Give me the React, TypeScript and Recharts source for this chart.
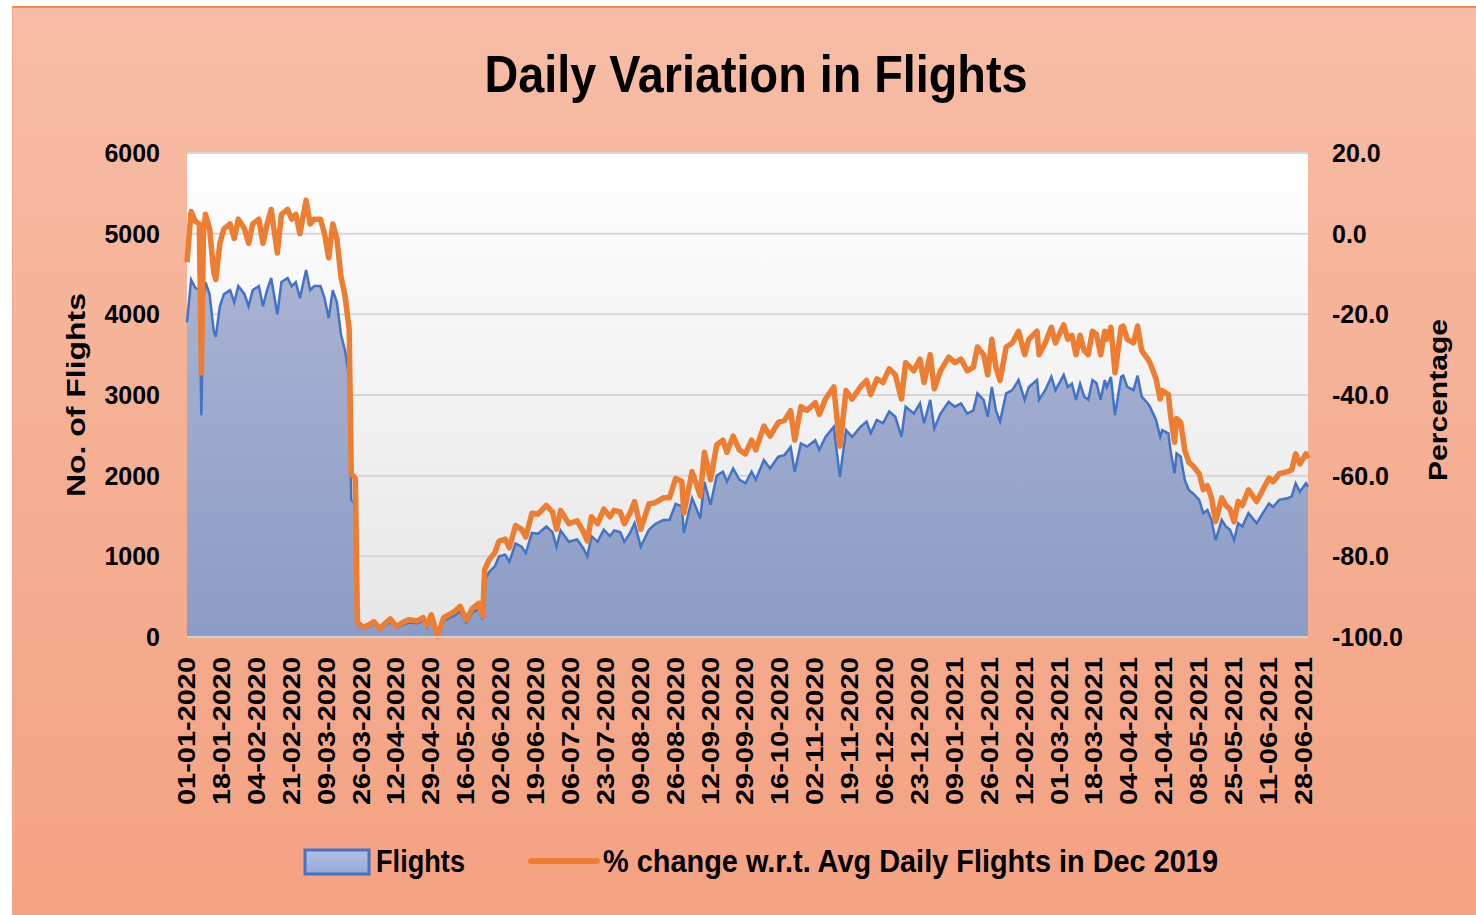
import { Area, CartesianGrid, ComposedChart, Line, XAxis, YAxis } from "recharts";

// x-axis labels, one every 17 days starting 01-01-2020
const tickLabels = [
  "01-01-2020", "18-01-2020", "04-02-2020", "21-02-2020", "09-03-2020", "26-03-2020",
  "12-04-2020", "29-04-2020", "16-05-2020", "02-06-2020", "19-06-2020", "06-07-2020",
  "23-07-2020", "09-08-2020", "26-08-2020", "12-09-2020", "29-09-2020", "16-10-2020",
  "02-11-2020", "19-11-2020", "06-12-2020", "23-12-2020", "09-01-2021", "26-01-2021",
  "12-02-2021", "01-03-2021", "18-03-2021", "04-04-2021", "21-04-2021", "08-05-2021",
  "25-05-2021", "11-06-2021", "28-06-2021"
];

// day index since 01-01-2020
const days = [
  0, 2, 4, 6, 7, 8, 9, 11, 13, 14, 16, 18, 21, 23, 25, 28, 30, 32, 35, 37,
  39, 41, 44, 46, 49, 51, 53, 55, 58, 60, 62, 65, 67, 69, 71, 73, 75, 77, 79, 80,
  82, 83,
  86, 89, 91, 94, 97, 99, 102, 105, 108, 112, 115, 117, 119, 122, 125, 128, 130, 133, 136, 139,
  142, 144, 145, 147, 150, 152, 155, 157, 160, 163, 165, 168, 171, 175,
  178, 180, 182, 186, 190, 193, 195, 197, 200, 203, 206, 208, 211, 213, 216, 218, 221, 225, 228, 232,
  235, 238, 241, 242, 246, 248, 250, 252, 255, 258, 261,
  263, 266, 269, 272, 275, 277, 281, 284, 288, 291, 294, 296, 299, 302, 306, 308, 311, 315, 318, 321,
  324, 328, 331, 333, 336, 339, 342, 345, 348, 350,
  354, 357, 359, 362, 364, 367, 371, 374, 377, 380, 383, 385, 388, 390, 392, 394, 396, 399, 402, 405,
  408, 410, 414, 415, 418, 421, 423, 427, 429, 431, 433, 435, 437, 439,
  441, 443, 445, 447, 448, 450, 452, 455, 456, 458, 461, 463, 465, 468, 469, 472, 474, 475, 478, 479,
  481, 482, 484, 486, 488, 490, 493, 495, 497, 499, 501, 504, 506, 508, 510, 512, 514, 517, 521, 524,
  527, 529, 532, 536, 538, 540, 542, 545, 546
];

const flights = [
  3900, 4430, 4330, 4300, 2750, 4200, 4400, 4250, 3800, 3720, 4100, 4250, 4300, 4150, 4350, 4250, 4100, 4300, 4350, 4100,
  4300, 4450, 4000, 4400, 4450, 4350, 4400, 4200, 4550, 4300, 4350, 4350, 4200, 3950, 4300, 4150, 3750, 3550, 3200, 1700,
  1650, 150,
  100, 130, 160, 90, 150, 190, 110, 150, 180, 170, 200, 120, 230, 10, 200, 240, 260, 320, 180, 300,
  350, 220, 700, 800, 880, 1000, 1020, 930, 1160, 1120, 1040, 1290, 1280, 1370,
  1300, 1120, 1320, 1180, 1210, 1100, 1000, 1250, 1180, 1330, 1250, 1320, 1300, 1180, 1300, 1410, 1120, 1330, 1400, 1450,
  1450, 1650, 1620, 1290, 1720, 1600, 1470, 1925, 1640, 2000, 2050,
  1925, 2090, 1950, 1905, 2050, 1950, 2195, 2090, 2235, 2255, 2355, 2050, 2400, 2360, 2440, 2320, 2480, 2605, 1985, 2565,
  2480, 2605, 2670, 2525, 2690, 2650, 2795, 2730, 2480, 2855,
  2770, 2895, 2650, 2940, 2585, 2770, 2915, 2855, 2895, 2770, 2810, 3020, 2940, 2730, 3100, 2810, 2670, 3020, 3060, 3185,
  2940, 3100, 3185, 2940, 3060, 3225, 3060, 3250, 3100, 3140, 2940, 3140, 2980, 2940,
  3185, 3150, 2940, 3185, 3100, 3225, 2750, 3225, 3240, 3100, 3060, 3240, 2980, 2895, 2855, 2690, 2480, 2565, 2525, 2320,
  2030, 2275, 2235, 1945, 1820, 1780, 1700, 1535, 1575, 1450, 1200, 1450, 1370, 1330, 1200, 1410, 1370, 1535, 1410, 1535,
  1655, 1615, 1700, 1720, 1740, 1905, 1800, 1905, 1860
];

// % change w.r.t. avg daily flights in Dec 2019
const pctChange = [
  -7.1, 5.5, 3.1, 2.4, -34.5, 0.0, 4.8, 1.2, -9.5, -11.4, -2.4, 1.2, 2.4, -1.2, 3.6, 1.2, -2.4, 2.4, 3.6, -2.4,
  2.4, 6.0, -4.8, 4.8, 6.0, 3.6, 4.8, 0.0, 8.3, 2.4, 3.6, 3.6, 0.0, -6.0, 2.4, -1.2, -10.7, -15.5, -23.8, -59.5,
  -60.7, -96.4,
  -97.6, -96.9, -96.2, -97.9, -96.4, -95.5, -97.4, -96.4, -95.7, -96.0, -95.2, -97.1, -94.5, -99.8, -95.2, -94.3, -93.8, -92.4, -95.7, -92.9,
  -91.7, -94.8, -83.3, -81.0, -79.0, -76.2, -75.7, -77.9, -72.4, -73.3, -75.2, -69.3, -69.5, -67.4,
  -69.0, -73.3, -68.6, -71.9, -71.2, -73.8, -76.2, -70.2, -71.9, -68.3, -70.2, -68.6, -69.0, -71.9, -69.0, -66.4, -73.3, -67.0, -66.7, -65.5,
  -65.5, -60.7, -61.4, -69.3, -59.0, -61.9, -65.0, -54.2, -61.0, -52.4, -51.2,
  -54.2, -50.2, -53.6, -54.6, -51.2, -53.6, -47.7, -50.2, -46.8, -46.3, -43.9, -51.2, -42.9, -43.8, -41.9, -44.8, -41.0, -38.0, -52.7, -38.9,
  -41.0, -38.0, -36.4, -39.9, -36.0, -36.9, -33.5, -35.0, -41.0, -32.0,
  -34.0, -31.1, -36.9, -30.0, -38.5, -34.0, -30.6, -32.0, -31.1, -34.0, -33.1, -28.1, -30.0, -35.0, -26.2, -33.1, -36.4, -28.1, -27.1, -24.2,
  -30.0, -26.2, -24.2, -30.0, -27.1, -23.2, -27.1, -22.6, -26.2, -25.2, -30.0, -25.2, -29.0, -30.0,
  -24.2, -25.0, -30.0, -24.2, -26.2, -23.2, -34.5, -23.2, -22.9, -26.2, -27.1, -22.9, -29.0, -31.1, -32.0, -36.0, -41.0, -38.9, -39.9, -44.8,
  -51.7, -45.8, -46.8, -53.7, -56.7, -57.6, -59.5, -63.5, -62.5, -65.5, -71.4, -65.5, -67.4, -68.3, -71.4, -66.4, -67.4, -63.5, -66.4, -63.5,
  -60.6, -61.5, -59.5, -59.0, -58.6, -54.6, -57.1, -54.6, -55.7
];

const flightTicks = [0, 1000, 2000, 3000, 4000, 5000, 6000];
const pctTicks = [-100, -80, -60, -40, -20, 0, 20];

const data = days.map((day, i) => ({ day, flights: flights[i], pct: pctChange[i] }));
const tickDays = tickLabels.map((_, i) => i * 17);

const FONT = '"Liberation Sans", Arial, sans-serif';

function DateTick(props: any) {
  const { x, y, payload } = props;
  const label = tickLabels[tickDays.indexOf(payload.value)] ?? "";
  return (
    <g transform={`translate(${x},${y})`}>
      <text
        transform="rotate(-90)"
        textAnchor="end"
        dy={8}
        fontSize={23}
        fontWeight={700}
        fontFamily={FONT}
        fill="#000"
        textLength={148}
        lengthAdjust="spacingAndGlyphs"
      >
        {label}
      </text>
    </g>
  );
}

const axisTick = { fontSize: 25, fontWeight: 700, fontFamily: FONT, fill: "#000" };

export default function App() {
  return (
    <div style={{ position: "absolute", left: 0, top: 0, width: 1476, height: 915, background: "#fff", overflow: "hidden" }}>
      <div
        style={{
          position: "absolute",
          left: 12,
          top: 6,
          width: 1464,
          height: 909,
          background: "linear-gradient(180deg, #f7bda6 0%, #f5ae91 55%, #f4a282 100%)",
          borderTop: "2px solid #ee8a55",
          borderLeft: "1px solid #f0a888"
        }}
      />
      <div style={{ position: "absolute", left: 0, top: 0 }}>
        <ComposedChart width={1476} height={915} data={data} margin={{ top: 153, right: 48, bottom: 100, left: 107 }}>
          <defs>
            <linearGradient id="plotBg" x1="0" y1="0" x2="0" y2="1">
              <stop offset="0%" stopColor="#ffffff" />
              <stop offset="100%" stopColor="#e6e6e6" />
            </linearGradient>
            <linearGradient id="flightFill" x1="0" y1="0" x2="0" y2="1">
              <stop offset="0%" stopColor="#a9b3d2" />
              <stop offset="100%" stopColor="#8b9cc6" />
            </linearGradient>
          </defs>
          <CartesianGrid vertical={false} stroke="#d6d6d6" strokeWidth={2} fill="url(#plotBg)" yAxisId="left" />
          <XAxis
            dataKey="day"
            type="number"
            domain={[0, 546]}
            ticks={tickDays}
            interval={0}
            tick={<DateTick />}
            tickLine={false}
            tickSize={0}
            tickMargin={20}
            axisLine={{ stroke: "#d0d0d0", strokeWidth: 2 }}
            height={178}
          />
          <YAxis
            yAxisId="left"
            domain={[0, 6000]}
            ticks={flightTicks}
            width={80}
            tickLine={false}
            axisLine={false}
            tickSize={0}
            tickMargin={27}
            tick={axisTick}
          />
          <YAxis
            yAxisId="right"
            orientation="right"
            domain={[-100, 20]}
            ticks={pctTicks}
            width={120}
            tickLine={false}
            axisLine={false}
            tickSize={0}
            tickMargin={24}
            tick={axisTick}
            tickFormatter={(v: number) => v.toFixed(1)}
          />
          <Area
            yAxisId="left"
            type="linear"
            dataKey="flights"
            stroke="#4472c4"
            strokeWidth={2.5}
            fill="url(#flightFill)"
            fillOpacity={1}
            isAnimationActive={false}
            name="Flights"
          />
          <Line
            yAxisId="right"
            type="linear"
            dataKey="pct"
            stroke="#ed7d31"
            strokeWidth={5.5}
            dot={false}
            strokeLinejoin="round"
            isAnimationActive={false}
            name="% change w.r.t. Avg Daily Flights in Dec 2019"
          />
        </ComposedChart>
      </div>
      <svg width={1476} height={915} style={{ position: "absolute", left: 0, top: 0, pointerEvents: "none" }} fontFamily={FONT}>
        <text x={756} y={92} textAnchor="middle" fontSize={52} fontWeight={700} fill="#000" textLength={543} lengthAdjust="spacingAndGlyphs">
          Daily Variation in Flights
        </text>
        <text transform="translate(85,395) rotate(-90)" textAnchor="middle" fontSize={26} fontWeight={700} fill="#000" textLength={204} lengthAdjust="spacingAndGlyphs">
          No. of Flights
        </text>
        <text transform="translate(1447,400) rotate(-90)" textAnchor="middle" fontSize={26} fontWeight={700} fill="#000" textLength={162} lengthAdjust="spacingAndGlyphs">
          Percentage
        </text>
        <defs>
          <linearGradient id="legendFill" x1="0" y1="0" x2="0" y2="1">
            <stop offset="0%" stopColor="#b3bfe3" />
            <stop offset="100%" stopColor="#97a8d8" />
          </linearGradient>
        </defs>
        <rect x={305} y={850} width={64} height={24} fill="url(#legendFill)" stroke="#4472c4" strokeWidth={3} />
        <text x={376} y={872} fontSize={31} fontWeight={700} fill="#000" textLength={89} lengthAdjust="spacingAndGlyphs">
          Flights
        </text>
        <line x1={531} y1={861} x2={597} y2={861} stroke="#ed7d31" strokeWidth={6} strokeLinecap="round" />
        <text x={603} y={872} fontSize={31} fontWeight={700} fill="#000" textLength={615} lengthAdjust="spacingAndGlyphs">
          % change w.r.t. Avg Daily Flights in Dec 2019
        </text>
      </svg>
    </div>
  );
}
